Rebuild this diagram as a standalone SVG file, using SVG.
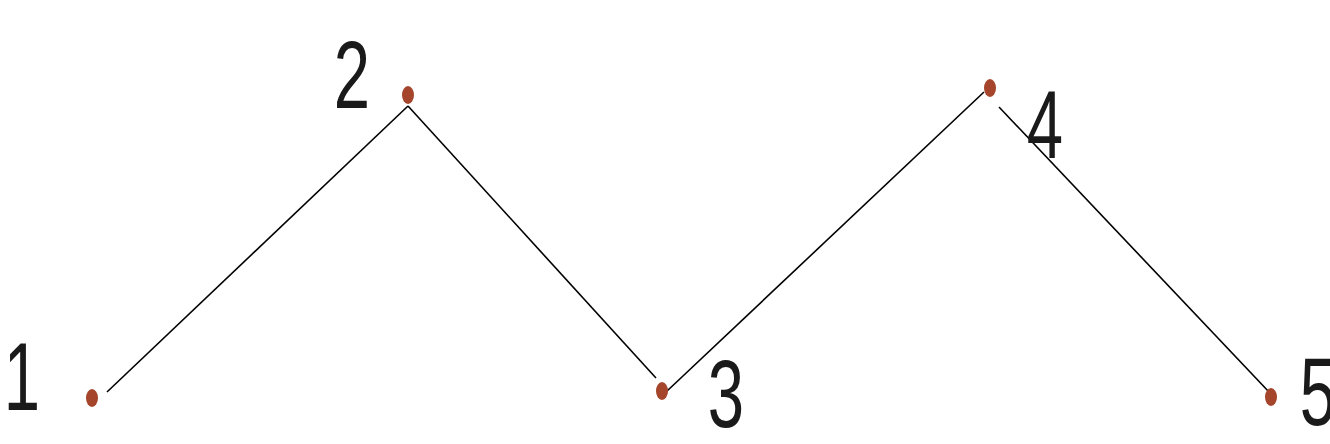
<svg xmlns="http://www.w3.org/2000/svg" width="1330" height="444" viewBox="0 0 1330 444">
<style>
.lbl{font-family:"Liberation Sans",Arial,sans-serif;font-size:96px;fill:#1a1a1a;text-anchor:middle}
.dot{fill:#a4452c}
.edge{stroke:#000;stroke-width:1.6;fill:none}
</style>
<rect width="1330" height="444" fill="#fff"/>
<g id="connectors">
<line class="edge" x1="107" y1="392" x2="408" y2="106"/>
<line class="edge" x1="408" y1="106" x2="656" y2="378"/>
<line class="edge" x1="666" y1="392" x2="984" y2="92"/>
<line class="edge" x1="999" y1="107" x2="1270" y2="393"/>
</g>
<g id="node1"><ellipse class="dot" cx="92" cy="398" rx="6" ry="9"/><text class="lbl" transform="translate(22,410) scale(0.68,1)">1</text></g>
<g id="node2"><ellipse class="dot" cx="408" cy="95" rx="6" ry="9"/><text class="lbl" transform="translate(352,108) scale(0.68,1)">2</text></g>
<g id="node3"><ellipse class="dot" cx="662" cy="391" rx="6" ry="9"/><text class="lbl" transform="translate(726,427) scale(0.68,1)">3</text></g>
<g id="node4"><ellipse class="dot" cx="990" cy="88" rx="6" ry="9"/><text class="lbl" transform="translate(1045,158) scale(0.68,1)">4</text></g>
<g id="node5"><ellipse class="dot" cx="1271" cy="397" rx="6" ry="9"/><text class="lbl" transform="translate(1318,425) scale(0.68,1)">5</text></g>
</svg>
